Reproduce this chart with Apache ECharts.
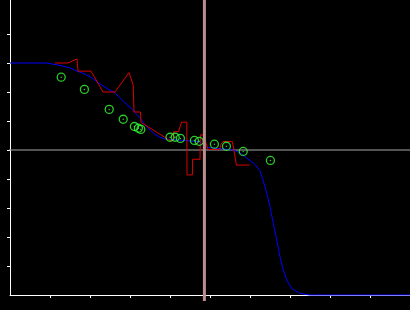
<!DOCTYPE html>
<html><head><meta charset="utf-8">
<script src="https://cdn.jsdelivr.net/npm/echarts@6/dist/echarts.min.js"></script>
<style>html,body{margin:0;padding:0;background:#000}#c{width:410px;height:310px}</style>
</head><body><div id="c"></div>
<script>
// Model curve (blue)
const blueX = [0, 0.9, 1.125, 1.3, 1.5, 1.675, 1.875, 2.05, 2.25, 2.45, 2.625, 2.8, 3.0, 3.25, 3.375, 3.5, 3.625, 3.75, 3.875, 4.05, 4.25, 4.425, 4.6, 4.75, 4.925, 5.125, 5.375, 5.575, 5.75, 5.95, 6.125, 6.25, 6.325, 6.417, 6.5, 6.583, 6.667, 6.75, 6.833, 6.917, 7.04, 7.21, 7.375, 7.5, 10];
const blueY = [3.0, 3.0, 2.95, 2.9, 2.83, 2.72, 2.62, 2.48, 2.28, 2.1, 1.97, 1.72, 1.48, 1.1, 0.86, 0.69, 0.54, 0.44, 0.38, 0.36, 0.34, 0.32, 0.3, 0.28, 0.09, 0.06, 0.03, 0.0, -0.1, -0.31, -0.5, -0.72, -1.03, -1.49, -1.96, -2.53, -3.1, -3.68, -4.14, -4.48, -4.77, -4.92, -4.98, -5.0, -5.0];
// Step curve (red)
const redX = [1.125, 1.45, 1.675, 1.7, 2.025, 2.325, 2.625, 2.975, 3.08, 3.1, 3.26, 3.275, 3.8, 3.95, 3.96, 4.075, 4.09, 4.21, 4.29, 4.42, 4.425, 4.56, 4.565, 4.75, 4.76, 4.85, 4.9, 4.95, 5.25, 5.26, 5.325, 5.56, 5.66, 5.99];
const redY = [3.0, 3.0, 3.14, 2.72, 2.72, 2.0, 2.0, 2.67, 2.24, 1.31, 1.31, 0.95, 0.5, 0.36, 0.31, 0.31, 0.63, 0.63, 0.96, 0.96, -0.86, -0.86, -0.32, -0.32, 0.52, 0.52, 0.24, 0.02, 0.02, 0.17, 0.29, 0.29, -0.52, -0.52];
// Observations (green)
const greenX = [1.28, 1.86, 2.48, 2.83, 3.11, 3.21, 3.27, 4.0, 4.13, 4.26, 4.61, 4.73, 5.11, 5.41, 5.83, 6.51];
const greenY = [2.51, 2.09, 1.40, 1.06, 0.81, 0.75, 0.71, 0.44, 0.44, 0.40, 0.33, 0.30, 0.20, 0.13, -0.05, -0.36];
// Reference lines
const vLineX = 4.86;
const hLineY = 0;
// Tick positions
const xTicks = [1, 2, 3, 4, 5, 6, 7, 8, 9];
const yTicks = [-4, -3, -2, -1, 0, 1, 2, 3, 4];

const zip = (a, b) => a.map((v, i) => [v, b[i]]);
const chart = echarts.init(document.getElementById('c'), null, {renderer: 'canvas'});
chart.setOption({
  backgroundColor: '#000',
  animation: false,
  grid: {left: 10, right: 0, top: 0, bottom: 15, outerBoundsMode: 'none'},
  xAxis: {
    type: 'value', min: 0, max: 10,
    axisLine: {show: true, onZero: false, lineStyle: {color: '#fff', width: 1}},
    axisTick: {show: true, length: 3, inside: false, customValues: xTicks, lineStyle: {color: '#fff'}},
    axisLabel: {show: false},
    splitLine: {show: false}
  },
  yAxis: {
    type: 'value', min: -5, max: -5 + 295 / 29,
    axisLine: {show: true, onZero: false, lineStyle: {color: '#fff', width: 1}},
    axisTick: {show: true, length: 3, inside: false, customValues: yTicks, lineStyle: {color: '#fff'}},
    axisLabel: {show: false},
    splitLine: {show: false}
  },
  series: [
    {type: 'line', data: [[-0.25, hLineY], [10, hLineY]], clip: false, symbol: 'none',
     lineStyle: {color: '#a8a8a8', width: 1}, z: 1, silent: true},
    {type: 'line', data: zip(blueX, blueY), symbol: 'none', clip: false,
     lineStyle: {color: '#0000ff', width: 1}, z: 3},
    {type: 'line', data: zip(redX, redY), symbol: 'none',
     lineStyle: {color: '#dd0000', width: 1}, z: 4},
    {type: 'scatter', data: zip(greenX, greenY), symbol: 'circle', symbolSize: 8,
     itemStyle: {color: 'rgba(0,0,0,0)', borderColor: '#33ff33', borderWidth: 1.3}, z: 5},
    {type: 'scatter', data: zip(greenX, greenY), symbol: 'circle', symbolSize: 1.5,
     itemStyle: {color: '#33ff33'}, z: 5},
    {type: 'line', data: [[vLineX, -5.21], [vLineX, 5.3]], clip: false, symbol: 'none',
     lineStyle: {color: '#bc8f8f', width: 3}, z: 6, silent: true}
  ]
});
</script>
</body></html>
